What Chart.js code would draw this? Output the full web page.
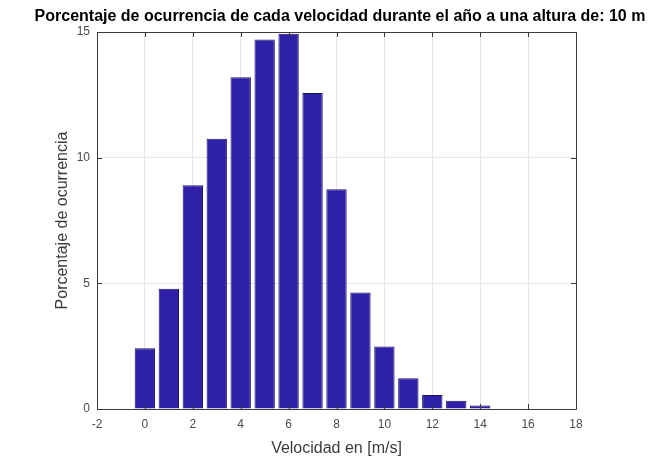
<!DOCTYPE html>
<html>
<head>
<meta charset="utf-8">
<script src="https://cdn.jsdelivr.net/npm/chart.js@4/dist/chart.umd.min.js"></script>
<style>
  html, body { margin: 0; padding: 0; background: #ffffff; overflow: hidden; }
  #wrap { width: 680px; height: 461px; position: relative; }
</style>
</head>
<body>
<div id="wrap"><canvas id="c"></canvas></div>
<script>
// Data
const titleText = 'Porcentaje de ocurrencia de cada velocidad durante el año a una altura de: 10 m';
const xAxisLabel = 'Velocidad en [m/s]';
const yAxisLabel = 'Porcentaje de ocurrencia';
const speeds = [0, 1, 2, 3, 4, 5, 6, 7, 8, 9, 10, 11, 12, 13, 14];
const percentages = [2.42, 4.78, 8.90, 10.75, 13.2, 14.7, 14.93, 12.57, 8.74, 4.64, 2.49, 1.22, 0.56, 0.33, 0.14];
const xMin = -2, xMax = 18, xStep = 2;
const yMin = 0, yMax = 15, yStep = 5;

const FONT = "'Liberation Sans', Arial, Helvetica, sans-serif";

const framePlugin = {
  id: 'frame',
  afterDraw(chart) {
    const {ctx, chartArea: a, scales} = chart;
    ctx.save();
    ctx.strokeStyle = '#3a3a3a';
    ctx.lineWidth = 1;
    ctx.beginPath();
    ctx.rect(Math.round(a.left) + 0.5, Math.round(a.top) + 0.5,
             Math.round(a.right - a.left), Math.round(a.bottom - a.top));
    ctx.stroke();
    const tl = 5;
    ctx.beginPath();
    scales.x.ticks.forEach(t => {
      const px = Math.round(scales.x.getPixelForValue(t.value)) + 0.5;
      ctx.moveTo(px, a.bottom); ctx.lineTo(px, a.bottom - tl);
      ctx.moveTo(px, a.top); ctx.lineTo(px, a.top + tl);
    });
    scales.y.ticks.forEach(t => {
      const py = Math.round(scales.y.getPixelForValue(t.value)) + 0.5;
      ctx.moveTo(a.left, py); ctx.lineTo(a.left + tl, py);
      ctx.moveTo(a.right, py); ctx.lineTo(a.right - tl, py);
    });
    ctx.stroke();
    ctx.restore();
  }
};

new Chart(document.getElementById('c'), {
  type: 'bar',
  data: {
    datasets: [{
      data: speeds.map((s, i) => ({x: s, y: percentages[i]})),
      backgroundColor: '#2f20aa',
      borderColor: '#1a1360',
      borderWidth: 1,
      barPercentage: 0.85,
      categoryPercentage: 1.0,
      yAxisID: 'y'
    }]
  },
  options: {
    responsive: true,
    maintainAspectRatio: false,
    animation: false,
    layout: { padding: { left: 0, right: 0, top: 0, bottom: 0 } },
    plugins: {
      legend: { display: false },
      tooltip: { enabled: false },
      title: {
        display: true,
        text: titleText,
        color: '#000000',
        font: { family: FONT, size: 16, weight: 'bold', lineHeight: 1.2 },
        padding: { top: 7.4, bottom: 5.4 }
      }
    },
    scales: {
      x: {
        type: 'linear',
        min: xMin, max: xMax,
        offset: false,
        grid: { color: '#e6e6e6', lineWidth: 1, drawTicks: false, offset: false },
        border: { display: false },
        ticks: {
          stepSize: xStep,
          color: '#4a4a4a',
          padding: 8,
          maxRotation: 0,
          font: { family: FONT, size: 12 }
        },
        title: {
          display: true,
          text: xAxisLabel,
          color: '#3a3a3a',
          font: { family: FONT, size: 16 },
          padding: { top: 0, bottom: 2.5 }
        },
        afterFit(scale) { scale.height = 52; }
      },
      y: {
        type: 'linear',
        position: 'left',
        min: yMin, max: yMax,
        grid: { color: '#e6e6e6', lineWidth: 1, drawTicks: false },
        border: { display: false },
        ticks: {
          stepSize: yStep,
          color: '#4a4a4a',
          padding: 7,
          font: { family: FONT, size: 12 }
        },
        title: {
          display: true,
          text: yAxisLabel,
          color: '#3a3a3a',
          font: { family: FONT, size: 16 },
          padding: { top: 52.5, bottom: 0 }
        },
        afterFit(scale) { scale.width = 97; }
      },
      spacer: {
        type: 'linear',
        position: 'right',
        display: true,
        grid: { display: false, drawTicks: false },
        border: { display: false },
        ticks: { display: false },
        afterFit(scale) { scale.width = 680 - 576; }
      }
    }
  },
  plugins: [framePlugin]
});
</script>
</body>
</html>
